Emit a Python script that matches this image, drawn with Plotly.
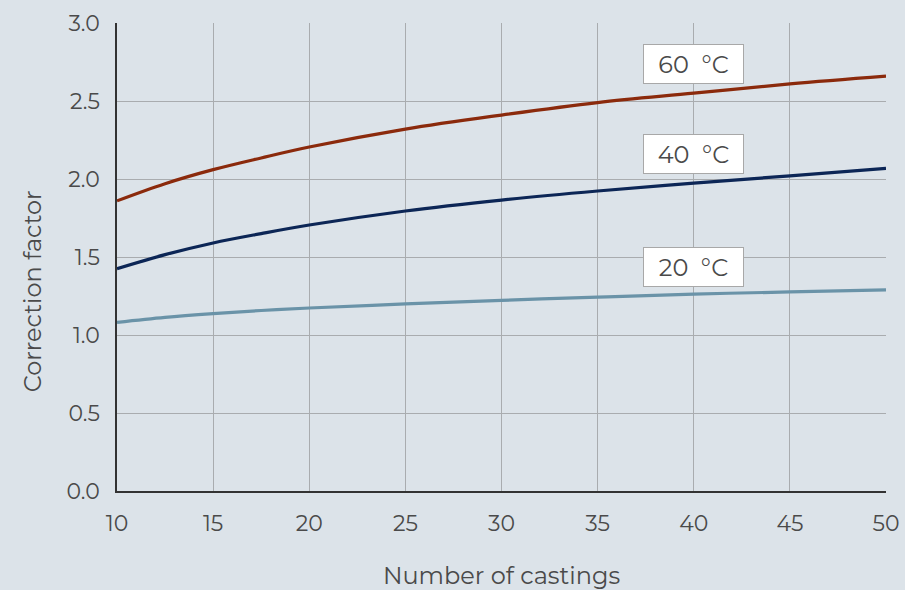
import plotly.graph_objects as go

castings = [10, 12.5, 15, 17.5, 20, 25, 30, 35, 40, 45, 50]
factor_60 = [1.86, 1.97, 2.06, 2.135, 2.205, 2.32, 2.41, 2.49, 2.55, 2.61, 2.66]
factor_40 = [1.425, 1.515, 1.59, 1.65, 1.705, 1.795, 1.865, 1.923, 1.974, 2.02, 2.068]
factor_20 = [1.081, 1.113, 1.137, 1.157, 1.173, 1.199, 1.222, 1.243, 1.262, 1.276, 1.289]

series = [
    ("60  °C", factor_60, "#8b2a0c", 2.735),
    ("40  °C", factor_40, "#0c2656", 2.16),
    ("20  °C", factor_20, "#6a93a8", 1.435),
]
label_x = 40

x_ticks = [10, 15, 20, 25, 30, 35, 40, 45, 50]
y_ticks = [0.0, 0.5, 1.0, 1.5, 2.0, 2.5, 3.0]

font_family = "Montserrat, 'DejaVu Sans', sans-serif"
text_color = "#4a4a4a"
bg = "#dce3e9"
fs = 22
fs_title = 24

fig = go.Figure()
for name, vals, color, ly in series:
    fig.add_trace(go.Scatter(x=castings, y=vals, mode="lines", name=name,
                             line=dict(color=color, width=3.2, shape="spline"),
                             showlegend=False, hoverinfo="skip"))
    fig.add_annotation(x=label_x, y=ly, text=name, showarrow=False,
                       font=dict(family=font_family, size=fs_title, color=text_color),
                       bgcolor="white", bordercolor="#a8a8a8", borderwidth=1,
                       borderpad=2, width=95, height=34)

# y-axis title (placed slightly below the plot centre, as in the original)
fig.add_annotation(text="Correction factor", textangle=-90, showarrow=False,
                   xref="paper", yref="paper", x=0, y=0.427,
                   xanchor="center", yanchor="middle", xshift=-85,
                   font=dict(family=font_family, size=fs_title, color=text_color))

fig.update_layout(
    width=905, height=590,
    paper_bgcolor=bg, plot_bgcolor=bg,
    margin=dict(l=117, r=19, t=23, b=99),
    font=dict(family=font_family, size=fs, color=text_color),
)
fig.update_xaxes(range=[10, 50], tickvals=x_ticks, ticktext=[str(v) for v in x_ticks],
                 showgrid=True, gridcolor="#a9acaf", gridwidth=1,
                 showline=True, linecolor="#333333", linewidth=1.5,
                 zeroline=False, ticks="", ticklabelstandoff=12, automargin=False,
                 title=dict(text="Number of castings", standoff=36,
                            font=dict(size=fs_title, color=text_color)),
                 tickfont=dict(size=fs, color=text_color))
fig.update_yaxes(range=[0, 3.0], tickvals=y_ticks, ticktext=[f"{v:.1f}" for v in y_ticks],
                 showgrid=True, gridcolor="#a9acaf", gridwidth=1,
                 showline=True, linecolor="#333333", linewidth=1.5,
                 zeroline=False, ticks="", ticklabelstandoff=11, automargin=False,
                 tickfont=dict(size=fs, color=text_color))

fig.write_html("out.html", config={"displayModeBar": False},
               post_script="document.body.style.margin='0';document.body.style.overflow='hidden';document.body.style.background='%s';" % bg)
